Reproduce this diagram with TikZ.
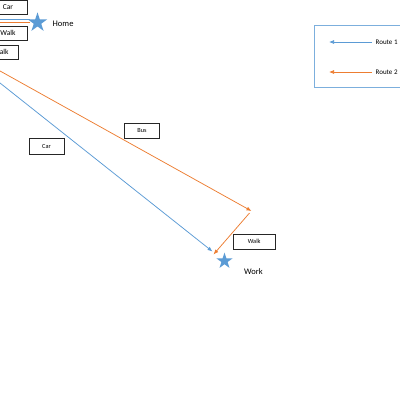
\documentclass[tikz,border=0pt]{standalone}
\usepackage{fontspec}
\setmainfont{Carlito}
\usetikzlibrary{shapes.geometric,arrows.meta}
\definecolor{rblue}{HTML}{5B9BD5}
\definecolor{rorange}{HTML}{ED7D31}
\tikzset{
  lbl/.style={draw=black!85,fill=white,line width=0.7pt,inner sep=0pt,font=\fontsize{7.5}{8}\selectfont},
  lbls/.style={draw=black!85,fill=white,line width=0.7pt,inner sep=0pt,font=\fontsize{6.3}{7}\selectfont},
  starnode/.style={star,star points=5,star point ratio=2.6,fill=rblue,draw=none,inner sep=0pt},
  route1/.style={draw=rblue,line width=0.75pt},
  route2/.style={draw=rorange,line width=0.75pt},
  tip/.style={-{Latex[length=5pt,width=4pt]}},
  place/.style={font=\fontsize{8.5}{10}\selectfont,inner sep=0pt},
  legtxt/.style={font=\fontsize{7}{8}\selectfont,inner sep=0pt,anchor=west}
}
\begin{document}
\begin{tikzpicture}[x=1pt,y=-1pt]
\useasboundingbox (0,0) rectangle (400,400);
\fill[white] (0,0) rectangle (400,400);
% stars
\node[starnode,minimum size=20.5pt] (home) at (37.5,22.5) {};
\node[starnode,minimum size=17pt] (work) at (224.5,261) {};
\node[place,anchor=west] (hometxt) at (52.5,24) {Home};
\node[place] (worktxt) at (253.5,271.5) {Work};
% lines near home
\coordinate (hb) at (-2,19);
\coordinate (ho) at (-2,22.3);
\coordinate (hbe) at (30,19);
\coordinate (hoe) at (30,22.3);
\draw[route1] (hbe) -- (hb);
\draw[route2] (hoe) -- (ho);
% main routes
\coordinate (b0) at (-1,82.2);
\coordinate (b1) at (212.5,251.5);
\coordinate (o0) at (-1,70.4);
\coordinate (o1) at (251.5,211);
\coordinate (o2) at (249.5,213);
\coordinate (o3) at (213.5,254.5);
\draw[route1,tip] (b0) -- (b1);
\draw[route2,tip] (o0) -- (o1);
\draw[route2,tip] (o2) -- (o3);
% label boxes
\node[lbl,minimum width=38pt,minimum height=14pt] (car1) at (8,7.2) {Car};
\node[lbl,minimum width=38pt,minimum height=14pt] (walk1) at (8,33.3) {Walk};
\node[lbl,minimum width=34pt,minimum height=14pt] (walk2) at (1,52) {Walk};
\node[lbls,minimum width=35.5pt,minimum height=15pt] (bus) at (142,130.5) {Bus};
\node[lbls,minimum width=35pt,minimum height=16pt] (car2) at (46.5,146) {Car};
\node[lbls,minimum width=41.5pt,minimum height=14.3pt] (walk3) at (254.2,241.8) {Walk};
% legend
\node[draw=rblue!80,line width=0.6pt,minimum width=100pt,minimum height=62pt,inner sep=0pt,anchor=north west] (legend) at (314,25) {};
\coordinate (l1a) at (372,42);
\coordinate (l1b) at (329,42);
\coordinate (l2a) at (372,72);
\coordinate (l2b) at (329,72);
\draw[route1,tip] (l1a) -- (l1b);
\draw[route2,tip] (l2a) -- (l2b);
\node[legtxt] (r1) at (375.5,42.5) {Route 1};
\node[legtxt] (r2) at (375.5,72.5) {Route 2};
\end{tikzpicture}
\end{document}
